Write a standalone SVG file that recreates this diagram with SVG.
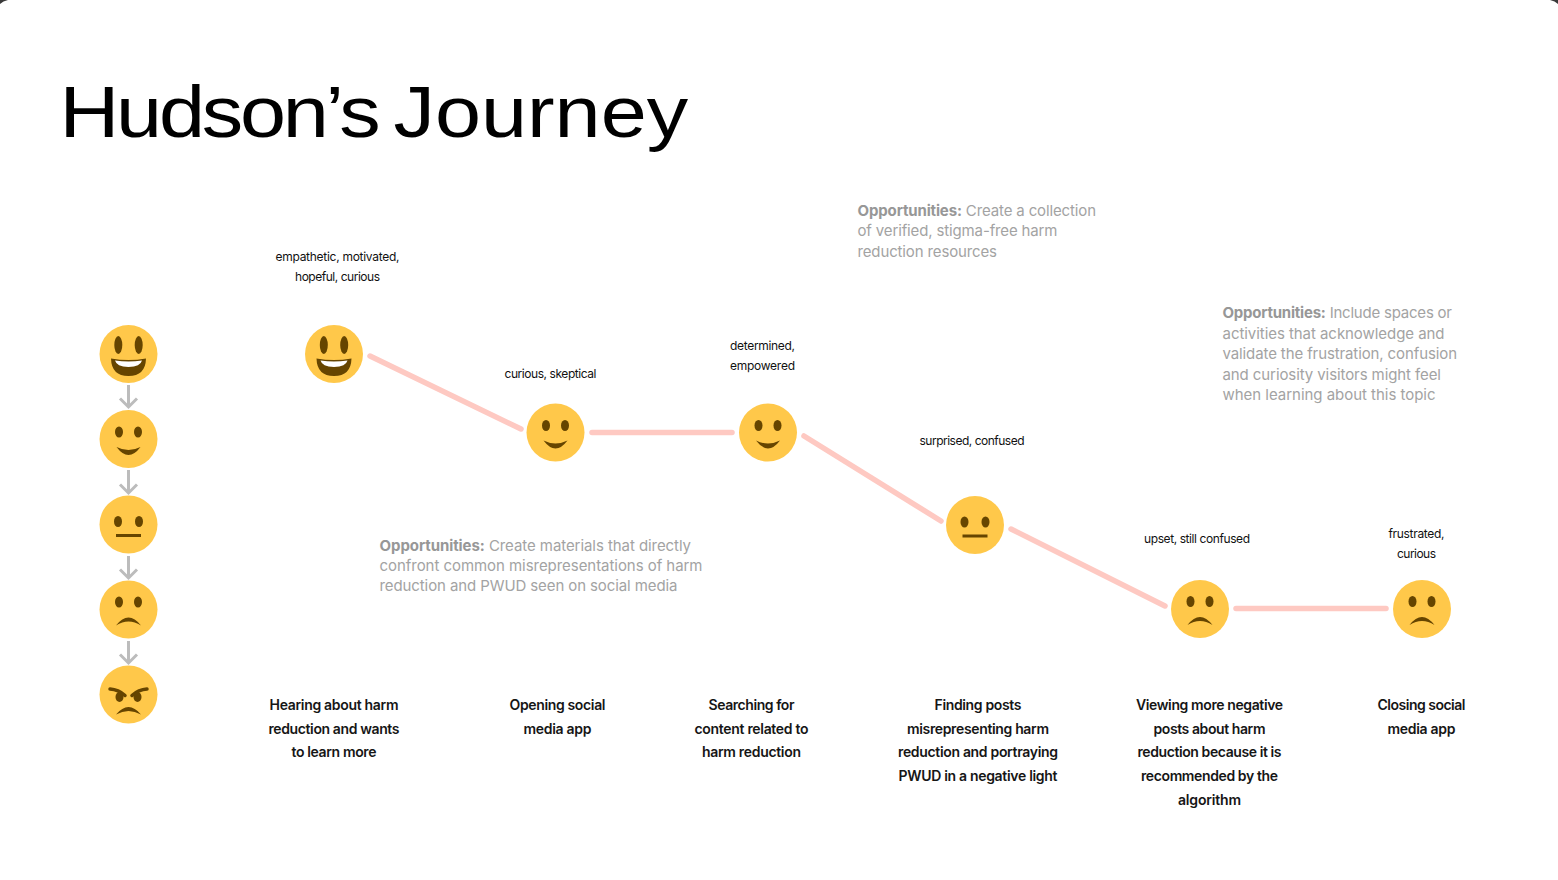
<svg xmlns="http://www.w3.org/2000/svg" width="1558" height="880" viewBox="0 0 1558 880">
<style>
text{font-family:"Inter","Noto Sans",sans-serif}
.title{font-family:"Liberation Sans",Arial,sans-serif;font-size:72px;fill:#000}
.mood{font-size:12px;fill:#111;text-anchor:middle}
.step{font-size:14px;font-weight:600;fill:#161616;text-anchor:middle}
.opp{font-size:15px;fill:#a3a3a3}
.opp .b{font-weight:700;fill:#979797}
.link{stroke:#fec9c2;stroke-width:5.500;stroke-linecap:round;fill:none}
.arr{stroke:#bcbcbc;stroke-width:3;fill:none}
.skin{fill:#ffc84a}
.ink{fill:#664500}
.inkl{stroke:#664500;fill:none;stroke-linecap:round}
</style>
<defs>
<g id="grin"><circle class="skin" r="29"/><ellipse class="ink" cx="-10.200" cy="-9" rx="4" ry="9"/><ellipse class="ink" cx="10.200" cy="-9" rx="4" ry="9"/><path class="ink" d="M-17.500 4.500Q0 7.500 17.500 4.500Q17 22 0 22Q-17 22 -17.500 4.500Z"/><path fill="#fff" d="M-13.500 6.500Q0 8.500 13.500 6.500Q12 12.500 0 13Q-12 12.500 -13.500 6.500Z"/></g>
<g id="smile"><circle class="skin" r="29"/><ellipse class="ink" cx="-9.500" cy="-7" rx="4" ry="5.500"/><ellipse class="ink" cx="9.500" cy="-7" rx="4" ry="5.500"/><path class="ink" d="M-12 8Q0 14 12 8Q0 24 -12 8Z"/></g>
<g id="neutral"><circle class="skin" r="29"/><ellipse class="ink" cx="-10.500" cy="-3" rx="4" ry="5.500"/><ellipse class="ink" cx="10.500" cy="-3" rx="4" ry="5.500"/><rect class="ink" x="-12.500" y="9.500" width="25" height="3"/></g>
<g id="frown"><circle class="skin" r="29"/><ellipse class="ink" cx="-9.500" cy="-7.500" rx="4" ry="5.500"/><ellipse class="ink" cx="9.500" cy="-7.500" rx="4" ry="5.500"/><path class="ink" d="M-12.500 16Q0 0 12.500 16Q0 8 -12.500 16Z"/></g>
<g id="angry"><circle class="skin" r="29"/><path class="inkl" stroke-width="3.500" d="M-18.500 -5.500Q-10 -5 -3.500 1M18.500 -5.500Q10 -5 3.500 1"/><ellipse class="ink" cx="-9" cy="2.500" rx="4" ry="5"/><ellipse class="ink" cx="9" cy="2.500" rx="4" ry="5"/><path class="ink" d="M-12.500 20Q0 5 12.500 20Q0 13 -12.500 20Z"/></g>
</defs>
<rect width="1558" height="880" fill="#fff"/>
<path fill="#3a3a3a" d="M0 0H8Q3 .8 0 4ZM1558 0H1550Q1555 .8 1558 4Z"/>
<text class="title" transform="translate(59.500 137) scale(1.15 1)"><tspan x="0" y="0" style="letter-spacing:-2.800px">Hudson’s</tspan> <tspan x="290.500" y="0" style="letter-spacing:0">Journey</tspan></text>
<g id="scale-legend">
<use href="#grin" x="128.500" y="354"/><use href="#smile" x="128.500" y="439"/><use href="#neutral" x="128.500" y="524.500"/><use href="#frown" x="128.500" y="609.500"/><use href="#angry" x="128.500" y="694.500"/>
<path class="arr" d="M128.500 385V407M120 398.500L128.500 407L137 398.500M128.500 470V493M120 484.500L128.500 493L137 484.500M128.500 556V578M120 569.500L128.500 578L137 569.500M128.500 641V663M120 654.500L128.500 663L137 654.500"/>
</g>
<g id="connectors">
<path class="link" d="M370 356L521 429"/><path class="link" d="M592 432.500H732"/><path class="link" d="M804 436L941 521"/><path class="link" d="M1011 529L1165 606"/><path class="link" d="M1236 608.500H1386"/>
</g>
<g id="node-1"><use href="#grin" x="334" y="354"/>
<text class="mood"><tspan x="337.500" y="261" textLength="124">empathetic, motivated,</tspan><tspan x="337.500" y="281" textLength="85">hopeful, curious</tspan></text>
<text class="step"><tspan x="334" y="709.500" textLength="129">Hearing about harm</tspan><tspan x="334" y="733.500" textLength="131">reduction and wants</tspan><tspan x="334" y="757" textLength="85">to learn more</tspan></text></g>
<g id="node-2"><use href="#smile" x="555.500" y="432.500"/>
<text class="mood" x="550.500" y="378" textLength="92">curious, skeptical</text>
<text class="step"><tspan x="557.500" y="709.500" textLength="96">Opening social</tspan><tspan x="557.500" y="733.500" textLength="68">media app</tspan></text></g>
<g id="node-3"><use href="#smile" x="768" y="432.500"/>
<text class="mood"><tspan x="762.500" y="350" textLength="65">determined,</tspan><tspan x="762.500" y="370" textLength="65">empowered</tspan></text>
<text class="step"><tspan x="751.500" y="709.500" textLength="86">Searching for</tspan><tspan x="751.500" y="733.500" textLength="114">content related to</tspan><tspan x="751.500" y="757" textLength="99">harm reduction</tspan></text></g>
<g id="node-4"><use href="#neutral" x="975" y="525"/>
<text class="mood" x="972" y="445" textLength="105">surprised, confused</text>
<text class="step"><tspan x="978" y="709.500" textLength="87">Finding posts</tspan><tspan x="978" y="733.500" textLength="142">misrepresenting harm</tspan><tspan x="978" y="757" textLength="160">reduction and portraying</tspan><tspan x="978" y="780.750" textLength="159">PWUD in a negative light</tspan></text></g>
<g id="node-5"><use href="#frown" x="1200" y="609"/>
<text class="mood" x="1197" y="543" textLength="106">upset, still confused</text>
<text class="step"><tspan x="1209.500" y="709.500" textLength="147">Viewing more negative</tspan><tspan x="1209.500" y="733.500" textLength="112">posts about harm</tspan><tspan x="1209.500" y="757" textLength="144">reduction because it is</tspan><tspan x="1209.500" y="780.750" textLength="137">recommended by the</tspan><tspan x="1209.500" y="804.500" textLength="63">algorithm</tspan></text></g>
<g id="node-6"><use href="#frown" x="1422" y="609"/>
<text class="mood"><tspan x="1416.500" y="538" textLength="56">frustrated,</tspan><tspan x="1416.500" y="558" textLength="39">curious</tspan></text>
<text class="step"><tspan x="1421.500" y="709.500" textLength="88">Closing social</tspan><tspan x="1421.500" y="733.500" textLength="68">media app</tspan></text></g>
<g id="opportunity-1"><text class="opp"><tspan x="857.500" y="216" textLength="238.500"><tspan class="b">Opportunities:</tspan> Create a collection</tspan><tspan x="857.500" y="236" textLength="200">of verified, stigma-free harm</tspan><tspan x="857.500" y="256.500" textLength="139.500">reduction resources</tspan></text></g>
<g id="opportunity-2"><text class="opp"><tspan x="1222.500" y="318" textLength="229.500"><tspan class="b">Opportunities:</tspan> Include spaces or</tspan><tspan x="1222.500" y="338.500" textLength="222">activities that acknowledge and</tspan><tspan x="1222.500" y="359" textLength="234.500">validate the frustration, confusion</tspan><tspan x="1222.500" y="379.500" textLength="218.500">and curiosity visitors might feel</tspan><tspan x="1222.500" y="399.500" textLength="213">when learning about this topic</tspan></text></g>
<g id="opportunity-3"><text class="opp"><tspan x="379.500" y="551" textLength="311.500"><tspan class="b">Opportunities:</tspan> Create materials that directly</tspan><tspan x="379.500" y="571" textLength="323">confront common misrepresentations of harm</tspan><tspan x="379.500" y="591" textLength="298">reduction and PWUD seen on social media</tspan></text></g>
</svg>
